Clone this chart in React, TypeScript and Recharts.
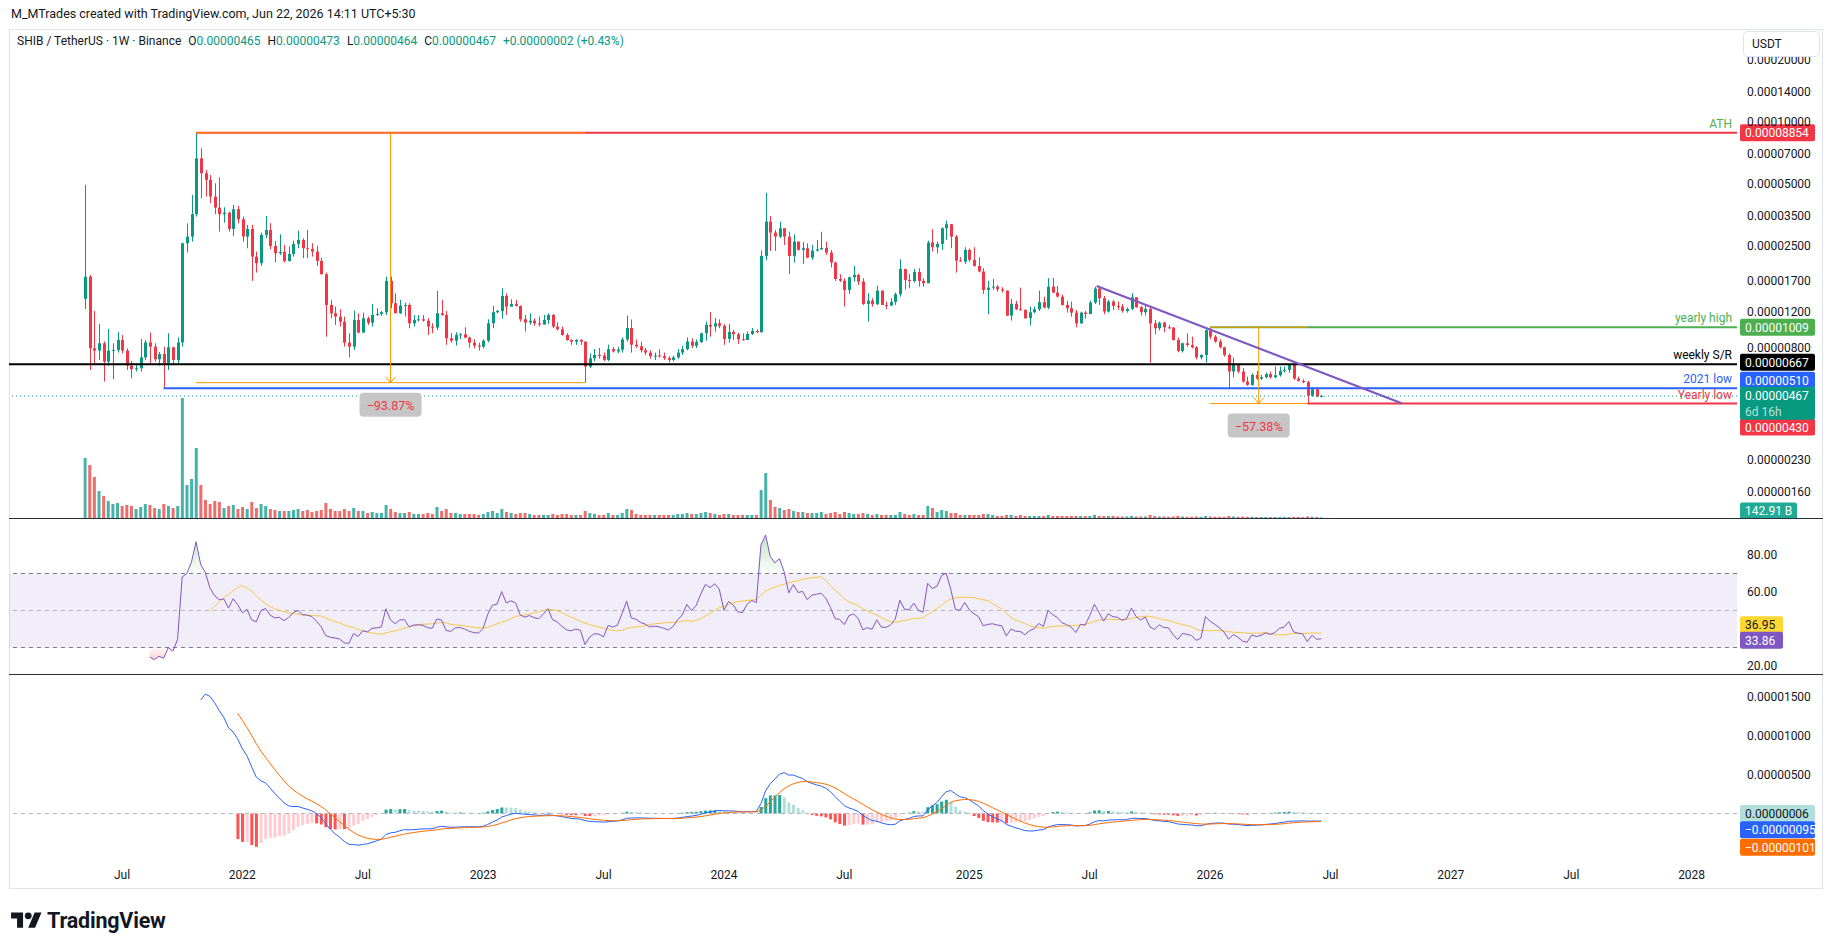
import React from 'react';
import {
  ComposedChart, Bar, Line, Area, XAxis, YAxis, ReferenceLine, ReferenceArea, ReferenceDot, Cell,
} from 'recharts';

const FONT = "Roboto, 'Liberation Sans', Arial, sans-serif";
const INK = '#131722';
const UP = '#089981';
const DOWN = '#f23645';
const ORANGE = '#ff9800';

// weekly candles from the week of 10 May 2021, prices in 0.00000001 USDT
const firstWeek = Date.UTC(2021, 4, 10);
const WEEK_MS = 7 * 24 * 3600 * 1000;
const firstOpen = 1385;

const close2021 = [1776, 797, 777, 843, 687, 777, 783, 875, 777, 657, 631, 638, 720, 852, 812, 705, 748, 674, 806, 700, 852, 2578, 2777, 3565, 6663, 5636, 5231, 4342, 3838, 3565, 3631, 3025, 3769, 3370];
const high2021 = [4950, 1810, 1210, 1046, 860, 990, 843, 955, 925, 797, 692, 674, 885, 875, 950, 843, 765, 812, 943, 812, 900, 2590, 3223, 4424, 8854, 7450, 5849, 5532, 5040, 5390, 3854, 3672, 3956, 3912];
const low2021 = [1238, 626, 674, 700, 550, 657, 564, 760, 754, 626, 570, 615, 615, 700, 674, 687, 657, 510, 626, 662, 674, 812, 2322, 2626, 3472, 4262, 4342, 4030, 3565, 2935, 3245, 2935, 2798, 3223];

const close2022 = [2777, 3025, 2221, 2062, 2830, 2992, 2502, 2305, 2340, 2115, 2288, 2560, 2675, 2438, 2420, 2349, 2115, 1823, 1294, 1179, 1136, 1074, 849, 812, 1094, 950, 1115, 1062, 1157, 1170, 1193, 1692, 1319, 1179, 1285, 1294, 1054, 1094, 1102, 1086, 1016, 1005, 1179, 1157, 892, 868, 925, 932, 898, 849, 822, 812];
const high2022 = [3472, 3164, 3164, 2349, 2904, 3498, 3223, 2645, 2850, 2530, 2483, 2655, 2970, 2726, 2992, 2578, 2502, 2196, 1858, 1369, 1270, 1233, 1136, 943, 1215, 1179, 1188, 1136, 1309, 1247, 1210, 1776, 1776, 1474, 1369, 1329, 1319, 1157, 1157, 1157, 1115, 1054, 1513, 1369, 1210, 943, 954, 943, 1008, 908, 882, 849];
const low2022 = [2626, 2438, 1692, 1858, 2000, 2726, 2410, 2078, 2263, 2078, 2100, 2221, 2438, 2180, 2180, 2221, 2000, 1823, 908, 1115, 1035, 1016, 812, 720, 783, 943, 979, 1035, 1016, 1145, 1145, 1157, 1247, 1179, 1170, 1136, 997, 1016, 1074, 1074, 925, 943, 979, 1145, 828, 849, 822, 882, 892, 803, 797, 777];

const close2023 = [868, 1054, 1193, 1210, 1431, 1270, 1309, 1280, 1102, 1062, 1086, 1054, 1040, 1094, 1157, 1016, 986, 925, 875, 859, 875, 859, 650, 713, 740, 735, 700, 790, 770, 785, 880, 1000, 830, 815, 780, 760, 730, 735, 730, 715, 700, 720, 760, 790, 860, 820, 855, 943, 1035, 1016, 1054, 1024];
const high2023 = [882, 1102, 1280, 1224, 1559, 1474, 1379, 1369, 1285, 1157, 1179, 1115, 1136, 1157, 1179, 1170, 1066, 1016, 943, 882, 882, 882, 859, 754, 790, 800, 760, 830, 810, 810, 900, 1150, 1100, 880, 860, 800, 780, 760, 790, 760, 730, 735, 790, 820, 900, 890, 880, 950, 1074, 1193, 1119, 1102];
const low2023 = [797, 852, 997, 1179, 1111, 1157, 1270, 1270, 1074, 961, 1035, 1024, 1016, 1043, 1047, 997, 972, 918, 868, 828, 828, 828, 543, 638, 690, 710, 690, 690, 760, 755, 760, 860, 760, 800, 760, 740, 710, 700, 720, 700, 680, 690, 710, 740, 780, 800, 800, 845, 868, 908, 961, 997];

const close2024 = [885, 958, 932, 882, 875, 936, 968, 954, 2238, 3283, 2904, 2777, 3048, 2777, 2238, 2626, 2393, 2438, 2196, 2375, 2410, 2447, 2322, 2078, 1730, 1698, 1530, 1763, 1810, 1680, 1309, 1358, 1304, 1519, 1294, 1285, 1339, 1458, 1935, 1711, 1690, 1870, 1692, 1649, 2600, 2465, 2560, 3048, 3188, 2777, 2123, 2100, 2393];
const high2024 = [1043, 1047, 979, 950, 943, 961, 1001, 986, 2375, 4523, 3498, 2992, 3283, 3048, 2935, 2850, 2626, 2610, 2578, 2530, 2675, 2930, 2626, 2393, 2100, 1823, 1743, 1776, 2000, 1830, 1743, 1474, 1395, 1606, 1513, 1344, 1395, 1486, 2156, 1935, 1830, 1935, 1950, 1743, 2655, 3014, 2626, 3082, 3320, 3200, 2830, 2205, 2465];
const low2024 = [828, 849, 875, 837, 868, 875, 925, 943, 950, 2130, 2367, 2367, 2726, 2530, 1830, 2078, 2375, 2047, 2180, 2140, 2349, 2393, 2263, 1965, 1692, 1674, 1270, 1463, 1680, 1618, 1294, 1074, 1270, 1294, 1294, 1233, 1280, 1294, 1420, 1541, 1560, 1662, 1588, 1588, 1649, 2349, 2305, 2393, 2675, 2438, 1858, 2100, 2047];

const close2025 = [2140, 2000, 1880, 1530, 1570, 1588, 1541, 1519, 1149, 1309, 1233, 1224, 1115, 1193, 1233, 1334, 1256, 1588, 1486, 1420, 1294, 1247, 1188, 1054, 1188, 1170, 1329, 1553, 1395, 1202, 1344, 1280, 1270, 1210, 1238, 1410, 1261, 1193, 1238, 1054, 997, 1062, 1008, 1005, 875, 774, 843, 828, 806, 720, 740, 975];
const high2025 = [2430, 2465, 2205, 1950, 1692, 1730, 1618, 1576, 1519, 1384, 1354, 1570, 1233, 1270, 1270, 1519, 1420, 1743, 1750, 1600, 1452, 1354, 1344, 1224, 1200, 1210, 1358, 1588, 1600, 1431, 1369, 1369, 1344, 1309, 1256, 1474, 1395, 1280, 1304, 1280, 1094, 1074, 1074, 1035, 1008, 898, 850, 943, 908, 818, 745, 990];
const low2025 = [2100, 1986, 1860, 1463, 1166, 1530, 1502, 1486, 1140, 1086, 1225, 1215, 1110, 1028, 1179, 1210, 1247, 1233, 1474, 1410, 1285, 1188, 1136, 1008, 1047, 1111, 1166, 1309, 1294, 1166, 1188, 1224, 1224, 1188, 1188, 1224, 1255, 1149, 1149, 679, 932, 972, 954, 986, 868, 763, 760, 812, 797, 705, 705, 679];

const close2026 = [908, 859, 806, 740, 615, 662, 615, 550, 530, 592, 568, 577, 597, 577, 590, 619, 626, 662, 568, 554, 546, 469, 504, 465, 467];
const high2026 = [1009, 925, 882, 812, 754, 720, 668, 638, 581, 603, 619, 592, 607, 615, 650, 650, 650, 668, 666, 581, 564, 554, 514, 514, 473];
const low2026 = [882, 849, 797, 726, 510, 577, 603, 543, 524, 524, 560, 560, 570, 568, 570, 581, 607, 607, 560, 550, 539, 430, 465, 462, 464];

// volume in billions of SHIB
const vol2021 = [15000, 13250, 10250, 6750, 5500, 4250, 3500, 3750, 3000, 3250, 3000, 2250, 2750, 3500, 3250, 2500, 2250, 3500, 3000, 2500, 3000, 30000, 8250, 9750, 17500, 8250, 4500, 3500, 4250, 4000, 2500, 3000, 3250, 2250];
const vol2022 = [2750, 2250, 4000, 2500, 3500, 3000, 2250, 2000, 1750, 1750, 1750, 2000, 2250, 1750, 2000, 1500, 1750, 2000, 3750, 2250, 1750, 1750, 2250, 1750, 2500, 1750, 1750, 1250, 1500, 1250, 1250, 3250, 2250, 1500, 1250, 1250, 1500, 1000, 1000, 1000, 1250, 1000, 2750, 1750, 2250, 1250, 1250, 1000, 1000, 1000, 1000, 750];
const vol2023 = [1000, 1500, 1750, 1250, 2250, 1500, 1250, 1000, 1250, 1250, 1000, 750, 750, 750, 750, 1000, 750, 1000, 1000, 750, 750, 750, 1750, 1250, 1000, 750, 750, 1250, 750, 750, 1250, 2250, 2000, 1000, 750, 750, 750, 750, 750, 750, 750, 750, 1000, 1000, 1250, 1000, 1000, 1250, 1500, 1250, 1000, 750];
const vol2024 = [1000, 1000, 750, 750, 750, 750, 750, 750, 7000, 11250, 4500, 2750, 2500, 2000, 2250, 1750, 1500, 1500, 1250, 1250, 1250, 1500, 1000, 1250, 1500, 1000, 1500, 1250, 1000, 1000, 1250, 1000, 750, 1000, 750, 750, 750, 750, 1500, 1000, 750, 1000, 750, 750, 3000, 2500, 1500, 2000, 1750, 1250, 1250, 750, 750];
const vol2025 = [750, 750, 750, 1000, 1000, 750, 500, 500, 750, 750, 500, 750, 500, 500, 500, 500, 500, 750, 500, 500, 500, 500, 500, 500, 500, 500, 500, 750, 500, 500, 500, 500, 375, 375, 375, 500, 375, 375, 375, 750, 500, 375, 375, 300, 375, 500, 375, 300, 300, 375, 300, 500];
const vol2026 = [375, 300, 300, 300, 500, 375, 300, 375, 300, 300, 250, 250, 250, 250, 250, 250, 250, 250, 300, 250, 250, 375, 300, 250, 142.91];

const priceTicks = [20000, 14000, 10000, 7000, 5000, 3500, 2500, 1700, 1200, 800, 230, 160];
const rsiTicks = [20, 60, 80];
const macdTicks = [500, 1000, 1500];
const tickDates = ['2021-07-01', '2022-01-01', '2022-07-01', '2023-01-01', '2023-07-01', '2024-01-01', '2024-07-01', '2025-01-01', '2025-07-01', '2026-01-01', '2026-07-01', '2027-01-01', '2027-07-01', '2028-01-01'];
const tickLabels = ['Jul', '2022', 'Jul', '2023', 'Jul', '2024', 'Jul', '2025', 'Jul', '2026', 'Jul', '2027', 'Jul', '2028'];

// drawn levels
const athPrice = 8854;
const yearlyHigh = 1009;
const weeklySR = 667;
const low2021Price = 510;
const yearlyLow = 430;
const lastPrice = 467;
const lastVolume = 142.91;
const rsiLast = 33.86;
const rsiMaLast = 36.95;
const histLast = 6;
const macdLast = -95;
const signalLast = -101;

// x extent of the pane in bar units
const XMIN = -16.4;
const XMAX = 356.8;

const closes = [...close2021, ...close2022, ...close2023, ...close2024, ...close2025, ...close2026];
const highs = [...high2021, ...high2022, ...high2023, ...high2024, ...high2025, ...high2026];
const lows = [...low2021, ...low2022, ...low2023, ...low2024, ...low2025, ...low2026];
const volumes = [...vol2021, ...vol2022, ...vol2023, ...vol2024, ...vol2025, ...vol2026];

function ema(src: (number | null)[], len: number) {
  const out: (number | null)[] = src.map(() => null);
  const k = 2 / (len + 1);
  let prev: number | null = null;
  const buf: number[] = [];
  src.forEach((v, i) => {
    if (v == null) return;
    if (prev == null) {
      buf.push(v);
      if (buf.length === len) {
        prev = buf.reduce((a, b) => a + b, 0) / len;
        out[i] = prev;
      }
    } else {
      prev = prev + k * (v - prev);
      out[i] = prev;
    }
  });
  return out;
}

function rsiCalc(src: number[], len: number) {
  const out: (number | null)[] = src.map(() => null);
  let ag = 0;
  let al = 0;
  for (let i = 1; i < src.length; i++) {
    const ch = src[i] - src[i - 1];
    const g = Math.max(ch, 0);
    const l = Math.max(-ch, 0);
    if (i <= len) {
      ag += g / len;
      al += l / len;
      if (i < len) continue;
    } else {
      ag = (ag * (len - 1) + g) / len;
      al = (al * (len - 1) + l) / len;
    }
    out[i] = al === 0 ? 100 : 100 - 100 / (1 + ag / al);
  }
  return out;
}

function smaOf(src: (number | null)[], len: number) {
  return src.map((_, i) => {
    if (i < len - 1) return null;
    const win = src.slice(i - len + 1, i + 1);
    if (win.some((v) => v == null)) return null;
    return (win as number[]).reduce((a, b) => a + b, 0) / len;
  });
}

const e12 = ema(closes, 12);
const e26 = ema(closes, 26);
const macd = closes.map((_, i) => (e12[i] != null && e26[i] != null ? (e12[i] as number) - (e26[i] as number) : null));
const signal = ema(macd, 9);
const hist = macd.map((m, i) => (m != null && signal[i] != null ? m - (signal[i] as number) : null));
const rsi = rsiCalc(closes, 14);
const rsiMa = smaOf(rsi, 14);

const rows = closes.map((c, i) => {
  const o = i === 0 ? firstOpen : closes[i - 1];
  const h = Math.max(highs[i], o, c);
  const l = Math.min(lows[i], o, c);
  const hv = hist[i];
  const hp = i > 0 ? hist[i - 1] : null;
  let hc = '#b2dfdb';
  if (hv != null) {
    const rising = hp != null && hp < hv;
    hc = hv >= 0 ? (rising ? '#26a69a' : '#b2dfdb') : (rising ? '#ffcdd2' : '#ff5252');
  }
  const r = rsi[i];
  return {
    i, o, c, h, l, range: [l, h], vol: volumes[i], up: c >= o,
    rsi: r, rsiMa: rsiMa[i],
    ob: r == null ? null : Math.max(r, 70),
    os: r == null ? null : Math.min(r, 30),
    macd: macd[i], signal: signal[i], hist: hv, hc,
  };
});

const xTicks = tickDates.map((d) => Math.ceil((Date.parse(d) - firstWeek) / WEEK_MS));
const fmt8 = (v: number) => (v / 1e8).toFixed(8);

function Candle(props: any) {
  const { x, y, width, height, payload } = props;
  if (!payload || y == null) return null;
  const { o, c, h, l } = payload;
  const top0 = Math.min(y, y + height);
  const hh = Math.abs(height);
  const color = c >= o ? UP : DOWN;
  const lh = Math.log(h);
  const ll = Math.log(l);
  const toY = (v: number) => (lh === ll ? top0 : top0 + ((lh - Math.log(v)) / (lh - ll)) * hh);
  const bt = toY(Math.max(o, c));
  const bb = toY(Math.min(o, c));
  const cx = Math.round(x + width / 2) + 0.5;
  return (
    <g>
      <line x1={cx} x2={cx} y1={top0} y2={top0 + hh} stroke={color} strokeWidth={1} />
      <rect x={cx - 1.5} y={bt} width={3} height={Math.max(bb - bt, 1)} fill={color} />
    </g>
  );
}

function Tag(props: any) {
  const { viewBox, text, sub, bg, fg = '#fff', dy = 0, w = 75 } = props;
  if (!viewBox) return null;
  const x = viewBox.x + viewBox.width + 3;
  const cy = viewBox.y + dy;
  return (
    <g>
      <rect x={x} y={cy - 8.5} width={w} height={sub ? 33 : 17} rx={2} fill={bg} />
      <text x={x + 5} y={cy + 0.5} dominantBaseline="central" fontSize={12} fill={fg}>{text}</text>
      {sub ? (
        <text x={x + 5} y={cy + 16.5} dominantBaseline="central" fontSize={12} fill="rgba(255,255,255,0.72)">{sub}</text>
      ) : null}
    </g>
  );
}

function LineText(props: any) {
  const { viewBox, text, color } = props;
  if (!viewBox) return null;
  return (
    <text x={viewBox.x + viewBox.width - 5} y={viewBox.y - 9} textAnchor="end" dominantBaseline="central" fontSize={12} fill={color}>
      {text}
    </text>
  );
}

function PctBox(props: any) {
  const { cx, cy, text } = props;
  if (cx == null) return null;
  return (
    <g>
      <rect x={cx - 31} y={cy + 10} width={62} height={24} rx={4} fill="#c6c6c6" />
      <text x={cx} y={cy + 22.5} textAnchor="middle" dominantBaseline="central" fontSize={12.5} fill="#f23645">{text}</text>
    </g>
  );
}

function ArrowDown(props: any) {
  const { cx, cy } = props;
  if (cx == null) return null;
  return <polyline points={`${cx - 5},${cy - 6} ${cx},${cy} ${cx + 5},${cy - 6}`} fill="none" stroke={ORANGE} strokeWidth={1} />;
}

const axisTick = { fontSize: 12, fill: INK };
const noMargin = { top: 0, right: 0, bottom: 0, left: 0 };

function PriceChart() {
  const P = { xAxisId: 'x', yAxisId: 'p', ifOverflow: 'visible' as const };
  return (
    <ComposedChart width={1814} height={489} data={rows} margin={noMargin}>
      <XAxis xAxisId="x" type="number" dataKey="i" domain={[XMIN, XMAX]} allowDataOverflow hide />
      <XAxis xAxisId="xv" type="number" dataKey="i" domain={[XMIN, XMAX]} allowDataOverflow hide />
      <YAxis
        yAxisId="p" orientation="right" scale="log" domain={[119.7, 28240]} allowDataOverflow
        ticks={priceTicks} interval={0} width={86} tickLine={false} axisLine={false}
        tickMargin={4} tick={axisTick} tickFormatter={fmt8}
      />
      <YAxis yAxisId="v" domain={[0, 122250]} allowDataOverflow hide />
      <Bar xAxisId="xv" yAxisId="v" dataKey="vol" barSize={3} isAnimationActive={false}>
        {rows.map((r) => (
          <Cell key={r.i} fill={r.up ? 'rgba(38,166,154,0.85)' : 'rgba(239,83,80,0.85)'} />
        ))}
      </Bar>
      <Bar xAxisId="x" yAxisId="p" dataKey="range" barSize={3} isAnimationActive={false} shape={(p: any) => <Candle {...p} />} />

      <ReferenceLine {...P} y={lastPrice} stroke={UP} strokeDasharray="1 3" strokeWidth={1} />
      <ReferenceLine {...P} y={weeklySR} stroke="#000" strokeWidth={2} label={<LineText text="weekly S/R" color="#000" />} />
      <ReferenceLine {...P} segment={[{ x: 17, y: low2021Price }, { x: XMAX, y: low2021Price }]} stroke="#2962ff" strokeWidth={2} label={<LineText text="2021 low" color="#2962ff" />} />
      <ReferenceLine {...P} segment={[{ x: 24, y: athPrice }, { x: XMAX, y: athPrice }]} stroke="#f23645" strokeWidth={2} label={<LineText text="ATH" color="#4caf50" />} />
      <ReferenceLine {...P} segment={[{ x: 243, y: yearlyHigh }, { x: XMAX, y: yearlyHigh }]} stroke="#4caf50" strokeWidth={2} label={<LineText text="yearly high" color="#4caf50" />} />
      <ReferenceLine {...P} segment={[{ x: 264, y: yearlyLow }, { x: XMAX, y: yearlyLow }]} stroke="#f23645" strokeWidth={2} label={<LineText text="Yearly low" color="#f23645" />} />

      <ReferenceLine {...P} segment={[{ x: 24, y: athPrice }, { x: 108, y: athPrice }]} stroke={ORANGE} strokeWidth={1} />
      <ReferenceLine {...P} segment={[{ x: 24, y: 543 }, { x: 108, y: 543 }]} stroke={ORANGE} strokeWidth={1} />
      <ReferenceLine {...P} segment={[{ x: 66, y: athPrice }, { x: 66, y: 543 }]} stroke={ORANGE} strokeWidth={1} />
      <ReferenceDot {...P} x={66} y={543} shape={(p: any) => <ArrowDown {...p} />} />
      <ReferenceDot {...P} x={66} y={543} shape={(p: any) => <PctBox {...p} text="−93.87%" />} />

      <ReferenceLine {...P} segment={[{ x: 243, y: yearlyHigh }, { x: 264, y: yearlyHigh }]} stroke={ORANGE} strokeWidth={1} />
      <ReferenceLine {...P} segment={[{ x: 243, y: yearlyLow }, { x: 264, y: yearlyLow }]} stroke={ORANGE} strokeWidth={1} />
      <ReferenceLine {...P} segment={[{ x: 253.5, y: yearlyHigh }, { x: 253.5, y: yearlyLow }]} stroke={ORANGE} strokeWidth={1} />
      <ReferenceDot {...P} x={253.5} y={yearlyLow} shape={(p: any) => <ArrowDown {...p} />} />
      <ReferenceDot {...P} x={253.5} y={yearlyLow} shape={(p: any) => <PctBox {...p} text="−57.38%" />} />

      <ReferenceLine {...P} segment={[{ x: 218.5, y: 1600 }, { x: 284.5, y: yearlyLow }]} stroke="#7e57c2" strokeWidth={2.2} />

      <ReferenceLine {...P} y={athPrice} stroke="none" label={<Tag text="0.00008854" bg="#f23645" />} />
      <ReferenceLine {...P} y={yearlyHigh} stroke="none" label={<Tag text="0.00001009" bg="#4caf50" />} />
      <ReferenceLine {...P} y={weeklySR} stroke="none" label={<Tag text="0.00000667" bg="#000000" dy={-2} />} />
      <ReferenceLine {...P} y={low2021Price} stroke="none" label={<Tag text="0.00000510" bg="#2962ff" dy={-8} />} />
      <ReferenceLine {...P} y={yearlyLow} stroke="none" label={<Tag text="0.00000430" bg="#f23645" dy={23.5} />} />
      <ReferenceLine {...P} y={lastPrice} stroke="none" label={<Tag text="0.00000467" sub="6d 16h" bg={UP} dy={-1} />} />
      <ReferenceLine xAxisId="xv" yAxisId="v" ifOverflow="visible" y={lastVolume} stroke="none" label={<Tag text="142.91 B" bg="#22ab94" w={57} dy={-6.5} />} />
    </ComposedChart>
  );
}

function RsiChart() {
  return (
    <ComposedChart width={1814} height={156} data={rows} margin={noMargin}>
      <defs>
        <linearGradient id="obFill" x1="0" y1="0" x2="0" y2="1">
          <stop offset="0%" stopColor="#4caf50" stopOpacity={0.55} />
          <stop offset="100%" stopColor="#4caf50" stopOpacity={0.04} />
        </linearGradient>
        <linearGradient id="osFill" x1="0" y1="0" x2="0" y2="1">
          <stop offset="0%" stopColor="#f23645" stopOpacity={0.04} />
          <stop offset="100%" stopColor="#f23645" stopOpacity={0.4} />
        </linearGradient>
      </defs>
      <XAxis type="number" dataKey="i" domain={[XMIN, XMAX]} allowDataOverflow hide />
      <YAxis
        orientation="right" domain={[15.68, 100]} allowDataOverflow ticks={rsiTicks} interval={0}
        width={86} tickLine={false} axisLine={false} tickMargin={4} tick={axisTick}
        tickFormatter={(v: number) => v.toFixed(2)}
      />
      <ReferenceArea y1={30} y2={70} fill="#7e57c2" fillOpacity={0.1} stroke="none" ifOverflow="visible" />
      <ReferenceLine y={70} stroke="#787b86" strokeDasharray="4 4" />
      <ReferenceLine y={50} stroke="rgba(120,123,134,0.5)" strokeDasharray="4 4" />
      <ReferenceLine y={30} stroke="#787b86" strokeDasharray="4 4" />
      <Area dataKey="ob" baseValue={70} stroke="none" fill="url(#obFill)" isAnimationActive={false} />
      <Area dataKey="os" baseValue={30} stroke="none" fill="url(#osFill)" isAnimationActive={false} />
      <Line dataKey="rsiMa" stroke="#f7c845" strokeWidth={1} dot={false} isAnimationActive={false} />
      <Line dataKey="rsi" stroke="#7e57c2" strokeWidth={1} dot={false} isAnimationActive={false} />
      <ReferenceLine y={rsiMaLast} stroke="none" ifOverflow="visible" label={<Tag text="36.95" bg="#fdd835" fg={INK} w={43} dy={-10} />} />
      <ReferenceLine y={rsiLast} stroke="none" ifOverflow="visible" label={<Tag text="33.86" bg="#7e57c2" w={43} />} />
    </ComposedChart>
  );
}

function MacdChart() {
  return (
    <ComposedChart width={1814} height={215} data={rows} margin={noMargin}>
      <XAxis
        type="number" dataKey="i" domain={[XMIN, XMAX]} allowDataOverflow ticks={xTicks} interval={0}
        height={27} tickLine={false} axisLine={false} tick={axisTick}
        tickFormatter={(v: number) => tickLabels[xTicks.indexOf(v)] ?? ''}
      />
      <YAxis
        orientation="right" domain={[-625, 1797]} allowDataOverflow ticks={macdTicks} interval={0}
        width={86} tickLine={false} axisLine={false} tickMargin={4} tick={axisTick} tickFormatter={fmt8}
      />
      <ReferenceLine y={0} stroke="#b2b5be" strokeDasharray="4 4" />
      <Bar dataKey="hist" barSize={3} isAnimationActive={false}>
        {rows.map((r) => (
          <Cell key={r.i} fill={r.hc} />
        ))}
      </Bar>
      <Line dataKey="macd" stroke="#2962ff" strokeWidth={1} dot={false} isAnimationActive={false} />
      <Line dataKey="signal" stroke="#ff6d00" strokeWidth={1} dot={false} isAnimationActive={false} />
      <ReferenceLine y={histLast} stroke="none" ifOverflow="visible" label={<Tag text="0.00000006" bg="#b2dfdb" fg={INK} dy={0.5} />} />
      <ReferenceLine y={macdLast} stroke="none" ifOverflow="visible" label={<Tag text="−0.00000095" bg="#2962ff" dy={9} />} />
      <ReferenceLine y={signalLast} stroke="none" ifOverflow="visible" label={<Tag text="−0.00000101" bg="#ff6d00" dy={26} />} />
    </ComposedChart>
  );
}

const teal = { color: UP };

export default function App() {
  return (
    <div style={{ position: 'absolute', left: 0, top: 0, width: 1835, height: 951, background: '#fff', fontFamily: FONT, color: INK, overflow: 'hidden' }}>
      <div style={{ position: 'absolute', left: 9, top: 29, width: 1814, height: 860, border: '1px solid #e0e3eb', boxSizing: 'border-box' }} />
      <div style={{ position: 'absolute', left: 9, top: 29 }}>
        <PriceChart />
      </div>
      <div style={{ position: 'absolute', left: 9, top: 518 }}>
        <RsiChart />
      </div>
      <div style={{ position: 'absolute', left: 9, top: 674 }}>
        <MacdChart />
      </div>
      <div style={{ position: 'absolute', left: 9, top: 518, width: 1814, height: 1, background: '#2a2e39' }} />
      <div style={{ position: 'absolute', left: 9, top: 674, width: 1814, height: 1, background: '#2a2e39' }} />

      <div style={{ position: 'absolute', left: 11, top: 6, fontSize: 12.5, whiteSpace: 'nowrap' }}>
        M_MTrades created with TradingView.com, Jun 22, 2026 14:11 UTC+5:30
      </div>
      <div style={{ position: 'absolute', left: 17, top: 34, fontSize: 12, whiteSpace: 'nowrap' }}>
        <span>SHIB / TetherUS · 1W · Binance</span>
        <span style={{ marginLeft: 7 }}>O<span style={teal}>0.00000465</span></span>
        <span style={{ marginLeft: 7 }}>H<span style={teal}>0.00000473</span></span>
        <span style={{ marginLeft: 7 }}>L<span style={teal}>0.00000464</span></span>
        <span style={{ marginLeft: 7 }}>C<span style={teal}>0.00000467</span></span>
        <span style={{ marginLeft: 7, color: UP }}>+0.00000002 (+0.43%)</span>
      </div>
      <div style={{ position: 'absolute', left: 1743, top: 31, width: 77, height: 26, border: '1px solid #e0e3eb', borderRadius: 5, background: '#fff', boxSizing: 'border-box', fontSize: 12, lineHeight: '24px', paddingLeft: 8 }}>
        USDT
      </div>

      <div style={{ position: 'absolute', left: 11, top: 908, display: 'flex', alignItems: 'center', gap: 5 }}>
        <svg width="31" height="24" viewBox="0 0 36 28">
          <path d="M14 22H7V11H0V4h14v18zM28 22h-8l7.5-18h8L28 22z" fill={INK} />
          <circle cx="20" cy="8" r="4" fill={INK} />
        </svg>
        <span style={{ fontSize: 21.5, fontWeight: 700, letterSpacing: -0.2 }}>TradingView</span>
      </div>
    </div>
  );
}
